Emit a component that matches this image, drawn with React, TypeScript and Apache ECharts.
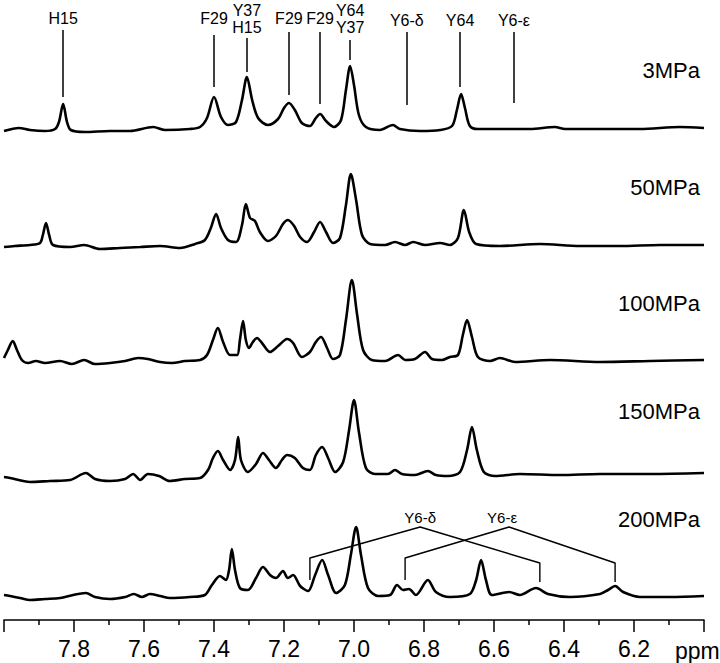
import React, { useEffect, useRef } from 'react';
import * as echarts from 'echarts';

const FONT = "'Liberation Sans', Arial, Helvetica, sans-serif";

// pressures (top to bottom)
const PRESSURES = ['3MPa', '50MPa', '100MPa', '150MPa', '200MPa'];

// spectra: [ppm, intensity above own baseline]
const SPEC_3 = [[8.000,-1],[7.957,2],[7.926,0],[7.883,-1],[7.854,1],[7.843,8],[7.831,26],[7.820,8],[7.809,0],[7.769,-2],[7.697,-1],[7.640,-1],[7.574,3],[7.540,0],[7.469,1],[7.440,3],[7.420,12],[7.400,33],[7.380,13],[7.360,5],[7.337,8],[7.320,30],[7.306,53],[7.291,30],[7.274,12],[7.246,5],[7.217,11],[7.200,22],[7.186,27],[7.169,20],[7.149,7],[7.126,4],[7.109,12],[7.097,16],[7.080,9],[7.057,3],[7.037,10],[7.023,40],[7.011,64],[7.000,45],[6.986,15],[6.966,3],[6.926,0],[6.889,5],[6.869,1],[6.811,-1],[6.754,0],[6.720,4],[6.706,20],[6.694,36],[6.683,22],[6.669,4],[6.646,1],[6.583,1],[6.497,1],[6.426,3],[6.397,1],[6.297,1],[6.183,1],[6.069,3],[6.000,2]];
const SPEC_50 = [[8.000,-2],[7.969,-1],[7.926,0],[7.897,2],[7.889,10],[7.880,22],[7.871,10],[7.860,0],[7.811,-2],[7.771,0],[7.726,-4],[7.669,-3],[7.611,-2],[7.554,-1],[7.497,-3],[7.454,1],[7.426,5],[7.409,17],[7.394,31],[7.380,17],[7.360,5],[7.337,3],[7.320,20],[7.309,41],[7.297,27],[7.283,24],[7.269,13],[7.246,4],[7.223,9],[7.203,21],[7.189,25],[7.171,19],[7.154,8],[7.134,3],[7.114,13],[7.097,23],[7.080,13],[7.060,2],[7.040,7],[7.023,40],[7.009,71],[6.994,45],[6.977,10],[6.954,1],[6.911,0],[6.883,3],[6.854,0],[6.831,3],[6.797,0],[6.754,2],[6.726,0],[6.703,7],[6.686,35],[6.671,13],[6.651,1],[6.583,-1],[6.469,1],[6.354,-1],[6.240,-1],[6.126,0],[6.000,0]];
const SPEC_100 = [[8.000,3],[7.989,11],[7.975,20],[7.963,11],[7.949,1],[7.931,-2],[7.909,0],[7.883,-2],[7.840,0],[7.806,-3],[7.771,1],[7.740,-3],[7.697,-2],[7.654,0],[7.617,3],[7.589,2],[7.554,-1],[7.520,-2],[7.483,0],[7.440,1],[7.420,6],[7.403,21],[7.389,33],[7.374,19],[7.354,6],[7.334,6],[7.326,21],[7.317,40],[7.309,21],[7.300,13],[7.289,19],[7.277,23],[7.263,18],[7.240,9],[7.217,15],[7.191,22],[7.174,18],[7.149,4],[7.126,9],[7.109,19],[7.094,24],[7.077,13],[7.060,2],[7.040,6],[7.023,41],[7.006,81],[6.991,46],[6.974,11],[6.949,1],[6.911,0],[6.874,6],[6.854,1],[6.826,2],[6.797,9],[6.777,2],[6.749,1],[6.726,4],[6.703,6],[6.689,26],[6.677,41],[6.663,24],[6.646,4],[6.611,0],[6.583,3],[6.540,-1],[6.440,1],[6.297,-1],[6.154,0],[6.000,1]];
const SPEC_150 = [[8.000,2],[7.983,1],[7.926,-3],[7.869,-2],[7.811,-1],[7.766,6],[7.740,0],[7.697,-2],[7.654,0],[7.631,5],[7.611,-1],[7.589,5],[7.557,3],[7.526,-2],[7.483,0],[7.440,1],[7.417,9],[7.403,21],[7.389,28],[7.374,19],[7.354,9],[7.340,19],[7.331,42],[7.323,19],[7.303,7],[7.280,15],[7.260,26],[7.243,19],[7.223,11],[7.206,19],[7.191,24],[7.169,21],[7.146,11],[7.126,9],[7.109,24],[7.091,32],[7.074,21],[7.054,7],[7.031,17],[7.014,49],[7.000,79],[6.986,47],[6.966,11],[6.940,5],[6.903,5],[6.883,9],[6.863,5],[6.826,4],[6.789,8],[6.766,4],[6.731,3],[6.697,7],[6.677,29],[6.663,52],[6.649,29],[6.629,7],[6.597,3],[6.526,5],[6.411,4],[6.297,5],[6.154,5],[6.000,6]];
const SPEC_200 = [[8.000,2],[7.983,1],[7.954,-1],[7.926,-3],[7.883,-2],[7.840,-1],[7.766,4],[7.740,0],[7.697,-2],[7.654,0],[7.629,3],[7.606,0],[7.583,3],[7.554,1],[7.526,-1],[7.469,0],[7.426,2],[7.406,12],[7.383,21],[7.366,17],[7.357,27],[7.349,48],[7.340,27],[7.326,9],[7.303,7],[7.280,19],[7.260,30],[7.240,22],[7.223,19],[7.203,26],[7.189,19],[7.174,22],[7.154,11],[7.131,6],[7.111,22],[7.091,37],[7.074,22],[7.051,4],[7.026,12],[7.009,42],[6.994,70],[6.980,42],[6.960,9],[6.931,1],[6.897,2],[6.877,12],[6.860,7],[6.843,8],[6.823,2],[6.789,17],[6.766,5],[6.726,0],[6.669,3],[6.651,17],[6.637,37],[6.623,17],[6.606,2],[6.557,5],[6.526,2],[6.480,9],[6.446,3],[6.383,0],[6.297,3],[6.274,7],[6.254,11],[6.231,5],[6.183,0],[6.097,0],[6.000,1]];
const SPECTRA = [SPEC_3, SPEC_50, SPEC_100, SPEC_150, SPEC_200];

// assignments on the top spectrum
const PEAK_NAMES = ['H15', 'F29', 'Y37\nH15', 'F29', 'F29', 'Y64\nY37', 'Y6-δ', 'Y64', 'Y6-ε'];
const PEAK_PPM = [7.831, 7.400, 7.306, 7.186, 7.097, 7.011, 6.849, 6.697, 6.543];

// Y6 ring split at 200 MPa: [apex ppm, left ppm, right ppm]
const SPLIT_NAMES = ['Y6-δ', 'Y6-ε'];
const SPLIT_PPM = [[6.811, 7.126, 6.469], [6.557, 6.854, 6.254]];

// x-axis
const X_MIN = 6.0;
const X_MAX = 8.0;
const X_STEP = 0.2;

// ---- layout (pixel-equivalent units on the hidden y axis) ----
const OFFSETS = [490, 375, 259, 141, 23];
const LABEL_LINE = [[590, 523], [585, 533], [582, 548], [588, 525], [588, 516], [580, 560], [588, 515], [588, 533], [588, 517]];
const LABEL_Y = [602, 602, 601.5, 602, 602, 601.5, 600, 600, 600];
const PRESS_Y = [70, 187, 303, 411, 519];

function buildOption() {
  const series: any[] = [];
  SPECTRA.forEach((s, i) => {
    series.push({
      type: 'line',
      data: s.map(([x, v]) => [x, v + OFFSETS[i]]),
      symbol: 'none',
      smooth: 0.3,
      lineStyle: { color: '#000', width: 2.6 },
      silent: true,
      z: 3,
    });
  });
  series.push({
    type: 'lines',
    coordinateSystem: 'cartesian2d',
    silent: true,
    lineStyle: { color: '#000', width: 1.5, opacity: 1 },
    data: PEAK_PPM.map((p, i) => ({ coords: [[p, LABEL_LINE[i][0]], [p, LABEL_LINE[i][1]]] })),
  });
  series.push({
    type: 'scatter',
    silent: true,
    symbolSize: 1,
    itemStyle: { color: 'rgba(0,0,0,0)', opacity: 1 },
    label: {
      show: true,
      position: 'inside',
      formatter: '{b}',
      color: '#000',
      opacity: 1,
      fontSize: 16,
      lineHeight: 17,
      fontFamily: FONT,
    },
    data: PEAK_PPM.map((p, i) => ({ name: PEAK_NAMES[i], value: [p, LABEL_Y[i]] })),
  });
  SPLIT_PPM.forEach(([apex, l, r]) => {
    series.push({
      type: 'line',
      symbol: 'none',
      silent: true,
      lineStyle: { color: '#000', width: 1.4 },
      data: [[l, 40], [l, 62], [apex, 93], [r, 57], [r, 38]],
      z: 2,
    });
  });
  series.push({
    type: 'scatter',
    silent: true,
    symbolSize: 1,
    itemStyle: { color: 'rgba(0,0,0,0)', opacity: 1 },
    label: { show: true, position: 'inside', formatter: '{b}', color: '#000', opacity: 1, fontSize: 15, fontFamily: FONT },
    data: SPLIT_PPM.map((a, i) => ({ name: SPLIT_NAMES[i], value: [a[0] + (i === 1 ? 0.02 : 0), 103] })),
  });

  const graphic: any[] = PRESSURES.map((t, i) => ({
    type: 'text',
    x: 700,
    y: PRESS_Y[i],
    silent: true,
    style: { text: t, fontSize: 22, fontFamily: FONT, fill: '#000', align: 'right', verticalAlign: 'middle' },
  }));
  graphic.push({
    type: 'text',
    x: 675,
    y: 651,
    silent: true,
    style: { text: 'ppm', fontSize: 23, fontFamily: FONT, fill: '#000', align: 'left', verticalAlign: 'middle' },
  });

  return {
    animation: false,
    backgroundColor: '#fff',
    grid: { left: 4, right: 16, top: 0, bottom: 43, containLabel: false },
    xAxis: {
      type: 'value',
      min: X_MIN,
      max: X_MAX,
      interval: X_STEP,
      inverse: true,
      axisLine: { show: true, onZero: false, lineStyle: { color: '#000', width: 1.5 } },
      axisTick: { show: true, length: 12, lineStyle: { color: '#000', width: 1.5 } },
      minorTick: { show: true, splitNumber: 2, length: 5, lineStyle: { color: '#000', width: 1.5 } },
      axisLabel: {
        color: '#000',
        fontSize: 23,
        margin: 17,
        fontFamily: FONT,
        showMinLabel: false,
        showMaxLabel: false,
        formatter: (v: number) => v.toFixed(1),
      },
      splitLine: { show: false },
      minorSplitLine: { show: false },
    },
    yAxis: { type: 'value', min: 0, max: 620, show: false, splitLine: { show: false } },
    graphic,
    series,
  };
}

export default function App() {
  const ref = useRef<HTMLDivElement>(null);
  useEffect(() => {
    if (!ref.current) return;
    const chart = echarts.init(ref.current, null, { renderer: 'svg' });
    chart.setOption(buildOption() as any);
    return () => chart.dispose();
  }, []);
  return <div ref={ref} style={{ position: 'absolute', left: 0, top: 0, width: 720, height: 663 }} />;
}
